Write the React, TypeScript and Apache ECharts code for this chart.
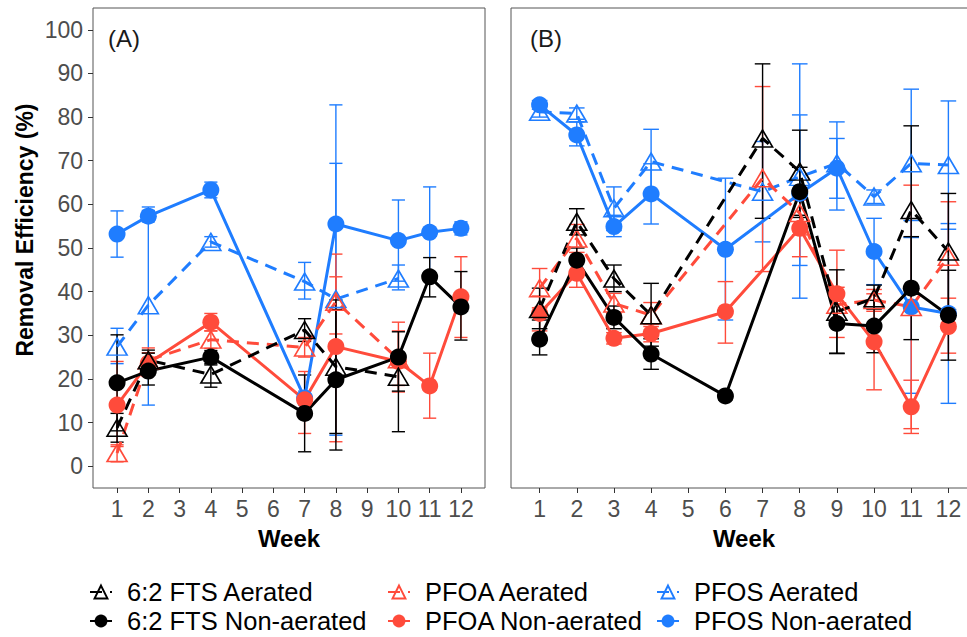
import React, { useEffect, useRef } from "react";
import * as echarts from "echarts";

// ---------- data ----------
const WEEK_TICKS = [1, 2, 3, 4, 5, 6, 7, 8, 9, 10, 11, 12];
const Y_TICKS = [0, 10, 20, 30, 40, 50, 60, 70, 80, 90, 100];

// Panel (A)
const WEEKS_A = [1, 2, 4, 7, 8, 10, 11, 12];
const A_FTS_AER = [8.8, 24.3, 21.0, 31.2, 22.8, 20.5, null, null];
const A_FTS_AER_LO = [5.5, 22.0, 18.1, 28.6, 7.5, 17.2, null, null];
const A_FTS_AER_HI = [12.1, 26.6, 23.2, 33.8, 38.1, 24.0, null, null];
const A_FTS_NON = [19.1, 21.8, 25.0, 12.1, 19.8, 25.0, 43.4, 36.5];
const A_FTS_NON_LO = [8.1, 18.6, 23.5, 3.3, 3.7, 7.9, 38.8, 28.9];
const A_FTS_NON_HI = [30.1, 25.9, 26.5, 20.9, 35.9, 30.8, 47.8, 44.6];
const A_PFOA_AER = [3.0, 24.3, 29.0, 27.2, 37.7, 24.5, null, null];
const A_PFOA_AER_LO = [1.0, 21.5, 27.0, 25.0, 30.3, 18.5, null, null];
const A_PFOA_AER_HI = [4.9, 27.1, 31.0, 29.5, 43.4, 33.0, null, null];
const A_PFOA_NON = [14.0, 23.6, 33.0, 15.2, 27.4, 24.0, 18.4, 38.8];
const A_PFOA_NON_LO = [4.5, 21.0, 31.0, 7.5, 5.6, 17.0, 11.0, 29.5];
const A_PFOA_NON_HI = [24.0, 26.0, 35.0, 21.7, 48.6, 31.0, 25.9, 48.0];
const A_PFOS_AER = [27.4, 36.9, 51.4, 42.3, 38.3, 43.0, null, null];
const A_PFOS_AER_LO = [23.5, 14.0, 50.2, 38.3, 7.1, 40.4, null, null];
const A_PFOS_AER_HI = [31.6, 59.4, 52.6, 46.7, 69.4, 46.1, null, null];
const A_PFOS_NON = [53.2, 57.3, 63.3, 15.6, 55.5, 51.7, 53.6, 54.5];
const A_PFOS_NON_LO = [47.9, 56.0, 61.5, 14.0, 28.2, 42.4, 43.2, 53.0];
const A_PFOS_NON_HI = [58.5, 58.6, 65.1, 17.2, 82.8, 61.0, 64.0, 56.0];

// Panel (B)
const WEEKS_B = [1, 2, 3, 4, 6, 7, 8, 9, 10, 11, 12];
const B_FTS_AER = [36.0, 56.0, 43.0, 34.6, null, 75.1, 67.5, 35.4, 38.5, 58.7, 49.2];
const B_FTS_AER_LO = [31.5, 53.0, 40.0, 27.5, null, 56.8, 57.0, 25.8, 36.0, 39.4, 35.9];
const B_FTS_AER_HI = [40.8, 59.0, 46.1, 41.9, null, 92.2, 77.0, 45.0, 41.5, 78.0, 62.5];
const B_FTS_NON = [29.1, 47.2, 34.1, 25.7, 16.1, null, 62.9, 32.7, 32.1, 40.8, 34.6];
const B_FTS_NON_LO = [25.5, 44.5, 31.5, 22.2, null, null, 57.5, 25.9, 26.0, 29.0, 24.3];
const B_FTS_NON_HI = [33.5, 50.0, 36.7, 29.2, null, null, 68.5, 39.8, 38.0, 52.6, 44.9];
const B_PFOA_AER = [40.8, 52.2, 37.3, 34.6, null, 66.0, 58.0, 37.0, 38.1, 36.5, 48.0];
const B_PFOA_AER_LO = [36.3, 49.0, 35.0, 32.0, null, 44.6, 53.0, 33.0, 35.5, 8.6, 35.4];
const B_PFOA_AER_HI = [45.3, 55.4, 39.6, 37.5, null, 87.0, 63.0, 41.0, 40.5, 64.4, 60.6];
const B_PFOA_NON = [35.0, 44.2, 29.3, 30.4, 35.4, null, 54.5, 39.5, 28.5, 13.6, 32.0];
const B_PFOA_NON_LO = [31.0, 41.0, 28.0, 28.5, 28.2, null, 48.0, 29.5, 17.5, 7.5, 25.9];
const B_PFOA_NON_HI = [39.0, 47.4, 30.6, 32.5, 42.3, null, 61.0, 49.5, 39.5, 19.7, 38.5];
const B_PFOS_AER = [81.2, 80.8, 59.1, 69.8, null, 62.9, 66.3, 69.4, 61.8, 69.4, 69.0];
const B_PFOS_AER_LO = [80.0, 79.5, 54.0, 62.4, null, 51.4, 38.5, 61.4, 60.2, 52.4, 54.3];
const B_PFOS_AER_HI = [82.4, 82.1, 64.0, 77.2, null, 74.4, 92.2, 75.1, 63.3, 86.4, 83.7];
const B_PFOS_NON = [82.8, 75.9, 54.9, 62.4, 49.7, null, 62.5, 68.3, 49.2, 36.5, 35.0];
const B_PFOS_NON_LO = [81.8, 73.4, 52.6, 55.5, 33.5, null, 46.0, 58.7, 41.6, 16.7, 14.4];
const B_PFOS_NON_HI = [83.8, 78.9, 57.5, 69.3, 66.0, null, 80.5, 78.9, 56.8, 56.3, 55.6];

const NAMES = {
  ftsA: "6:2 FTS Aerated",
  ftsN: "6:2 FTS Non-aerated",
  pfoaA: "PFOA Aerated",
  pfoaN: "PFOA Non-aerated",
  pfosA: "PFOS Aerated",
  pfosN: "PFOS Non-aerated",
};

// ---------- styles ----------
const BLACK = "#000000";
const RED = "#FF4B3B";
const BLUE = "#1F7DFF";
const FONT = "'Liberation Sans', Arial, Helvetica, sans-serif";

type Arr = (number | null)[];

function buildSeries(
  panel: number,
  name: string,
  color: string,
  aerated: boolean,
  weeks: number[],
  mean: Arr,
  lo: Arr,
  hi: Arr
) {
  const pts: number[][] = [];
  const errs: number[][] = [];
  weeks.forEach((w, i) => {
    const m = mean[i];
    if (m != null) pts.push([w, m]);
    const l = lo[i];
    const h = hi[i];
    if (l != null && h != null) errs.push([w, l, h]);
  });
  const err = {
    type: "custom",
    name: name + " (error)",
    xAxisIndex: panel,
    yAxisIndex: panel,
    z: 2,
    silent: true,
    encode: { x: 0, y: [1, 2] },
    data: errs,
    renderItem: (params: any, api: any) => {
      const x = api.value(0);
      const l = api.value(1);
      const h = api.value(2);
      const pl = api.coord([x, l]);
      const ph = api.coord([x, h]);
      const half = (api.coord([x + 0.21, l])[0] - api.coord([x - 0.21, l])[0]) / 2;
      const st = { stroke: color, lineWidth: 1.4, fill: null };
      return {
        type: "group",
        children: [
          { type: "line", shape: { x1: pl[0], y1: pl[1], x2: ph[0], y2: ph[1] }, style: st },
          { type: "line", shape: { x1: pl[0] - half, y1: pl[1], x2: pl[0] + half, y2: pl[1] }, style: st },
          { type: "line", shape: { x1: ph[0] - half, y1: ph[1], x2: ph[0] + half, y2: ph[1] }, style: st },
        ],
      };
    },
  };
  const line = {
    type: "line",
    name,
    xAxisIndex: panel,
    yAxisIndex: panel,
    z: 3,
    color,
    data: pts,
    symbol: aerated ? "triangle" : "circle",
    symbolSize: aerated ? [20, 17] : 17,
    showAllSymbol: true,
    lineStyle: { color, width: 3, type: aerated ? [12, 8] : "solid" },
    itemStyle: aerated
      ? { color: "rgba(255,255,255,0)", borderColor: color, borderWidth: 1.6 }
      : { color, borderColor: color, borderWidth: 0 },
    emphasis: { disabled: true },
  };
  return { err, line };
}

function panelSeries(panel: number, weeks: number[], d: Arr[][]) {
  // d: [mean, lo, hi] for pfosA, pfosN, pfoaA, pfoaN, ftsA, ftsN
  const defs: [string, string, boolean][] = [
    [NAMES.pfosA, BLUE, true],
    [NAMES.pfosN, BLUE, false],
    [NAMES.pfoaA, RED, true],
    [NAMES.pfoaN, RED, false],
    [NAMES.ftsA, BLACK, true],
    [NAMES.ftsN, BLACK, false],
  ];
  const built = defs.map((df, i) =>
    buildSeries(panel, df[0], df[1], df[2], weeks, d[i][0], d[i][1], d[i][2])
  );
  return [...built.map((b) => b.err), ...built.map((b) => b.line)];
}

function makeXAxis(grid: number) {
  return {
    type: "value",
    gridIndex: grid,
    min: 0.23,
    max: 12.77,
    name: "Week",
    nameLocation: "middle",
    nameGap: 38,
    nameTextStyle: { fontFamily: FONT, fontSize: 24, fontWeight: "bold", color: "#000" },
    axisLine: { show: false, onZero: false },
    splitLine: { show: false },
    axisTick: {
      show: true,
      length: 5,
      customValues: WEEK_TICKS,
      lineStyle: { color: "#333", width: 1 },
    },
    axisLabel: {
      show: true,
      customValues: WEEK_TICKS,
      margin: 9,
      fontFamily: FONT,
      fontSize: 23,
      color: "#4D4D4D",
    },
  };
}

function makeYAxis(grid: number, labels: boolean) {
  return {
    type: "value",
    gridIndex: grid,
    min: -5,
    max: 105,
    axisLine: { show: false, onZero: false },
    splitLine: { show: false },
    axisTick: {
      show: labels,
      length: 5,
      customValues: Y_TICKS,
      lineStyle: { color: "#333", width: 1 },
    },
    axisLabel: {
      show: labels,
      customValues: Y_TICKS,
      margin: 10,
      fontFamily: FONT,
      fontSize: 23,
      color: "#4D4D4D",
    },
  };
}

function legendCol(left: number, names: string[]) {
  return {
    orient: "vertical",
    left,
    top: 579,
    padding: 0,
    itemGap: 3,
    itemWidth: 22,
    itemHeight: 16,
    selectedMode: false,
    data: names,
    textStyle: {
      fontFamily: FONT,
      fontSize: 25.5,
      color: "#000",
      lineHeight: 26,
      padding: [0, 0, 0, 10],
    },
  };
}

export default function App() {
  const ref = useRef<HTMLDivElement>(null);
  useEffect(() => {
    if (!ref.current) return;
    const chart = echarts.init(ref.current, null, { renderer: "svg" });
    const seriesA = panelSeries(0, WEEKS_A, [
      [A_PFOS_AER, A_PFOS_AER_LO, A_PFOS_AER_HI],
      [A_PFOS_NON, A_PFOS_NON_LO, A_PFOS_NON_HI],
      [A_PFOA_AER, A_PFOA_AER_LO, A_PFOA_AER_HI],
      [A_PFOA_NON, A_PFOA_NON_LO, A_PFOA_NON_HI],
      [A_FTS_AER, A_FTS_AER_LO, A_FTS_AER_HI],
      [A_FTS_NON, A_FTS_NON_LO, A_FTS_NON_HI],
    ]);
    const seriesB = panelSeries(1, WEEKS_B, [
      [B_PFOS_AER, B_PFOS_AER_LO, B_PFOS_AER_HI],
      [B_PFOS_NON, B_PFOS_NON_LO, B_PFOS_NON_HI],
      [B_PFOA_AER, B_PFOA_AER_LO, B_PFOA_AER_HI],
      [B_PFOA_NON, B_PFOA_NON_LO, B_PFOA_NON_HI],
      [B_FTS_AER, B_FTS_AER_LO, B_FTS_AER_HI],
      [B_FTS_NON, B_FTS_NON_LO, B_FTS_NON_HI],
    ]);
    chart.setOption({
      animation: false,
      backgroundColor: "#ffffff",
      textStyle: { fontFamily: FONT },
      grid: [
        {
          left: 93,
          top: 8,
          width: 392,
          height: 480,
          show: true,
          borderColor: "#555",
          borderWidth: 1,
          backgroundColor: "transparent",
          containLabel: false,
          outerBoundsMode: "none",
        },
        {
          left: 511,
          top: 8,
          width: 466,
          height: 480,
          show: true,
          borderColor: "#555",
          borderWidth: 1,
          backgroundColor: "transparent",
          containLabel: false,
          outerBoundsMode: "none",
        },
      ],
      xAxis: [makeXAxis(0), makeXAxis(1)],
      yAxis: [makeYAxis(0, true), makeYAxis(1, false)],
      legend: [
        legendCol(89, [NAMES.ftsA, NAMES.ftsN]),
        legendCol(387, [NAMES.pfoaA, NAMES.pfoaN]),
        legendCol(656, [NAMES.pfosA, NAMES.pfosN]),
      ],
      graphic: [
        {
          type: "text",
          x: 25,
          y: 230,
          rotation: Math.PI / 2,
          style: {
            text: "Removal Efficiency (%)",
            fontFamily: FONT,
            fontSize: 23,
            fontWeight: "bold",
            fill: "#000",
            align: "center",
            verticalAlign: "middle",
          },
        },
        {
          type: "text",
          x: 108,
          y: 38,
          style: {
            text: "(A)",
            fontFamily: FONT,
            fontSize: 24,
            fill: "#1a1a1a",
            align: "left",
            verticalAlign: "middle",
          },
        },
        {
          type: "text",
          x: 530,
          y: 38,
          style: {
            text: "(B)",
            fontFamily: FONT,
            fontSize: 24,
            fill: "#1a1a1a",
            align: "left",
            verticalAlign: "middle",
          },
        },
      ],
      series: [...seriesA, ...seriesB],
    });
    return () => chart.dispose();
  }, []);
  return (
    <div
      ref={ref}
      style={{ position: "absolute", left: 0, top: 0, width: 967, height: 637, background: "#fff" }}
    />
  );
}
